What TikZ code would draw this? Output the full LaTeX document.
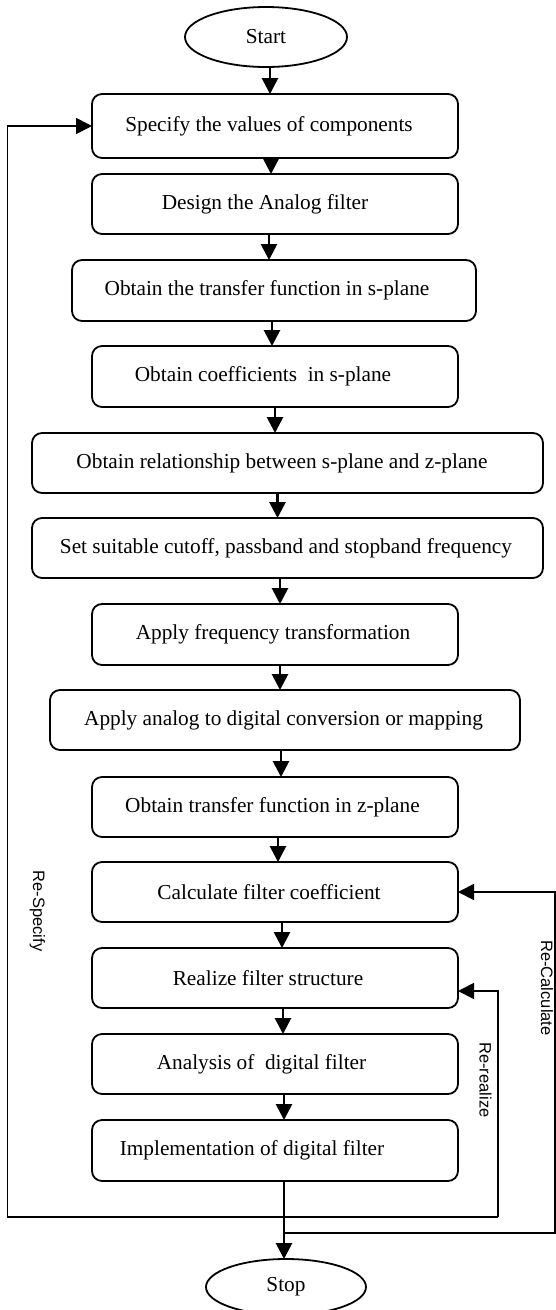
\documentclass[tikz,border=0pt]{standalone}
\usepackage{fontspec}
\setmainfont{Liberation Serif}
\newfontfamily\arialfont{Liberation Sans}
\usetikzlibrary{shapes.geometric,arrows.meta}
\begin{document}
\begin{tikzpicture}[x=1pt,y=-1pt,
  boxstyle/.style={draw,line width=1.8pt,rounded corners=10pt,inner sep=0pt,outer sep=0pt},
  btext/.style={font=\fontsize{21.3}{25}\selectfont},
  ovalstyle/.style={draw,ellipse,line width=1.8pt,inner sep=0pt,outer sep=0pt,font=\fontsize{21.3}{25}\selectfont},
  arr/.style={line width=2.8pt,-{Triangle[length=16pt,width=16pt]}},
  looparr/.style={line width=1.8pt,-{Triangle[length=16pt,width=16pt]}},
  sidetext/.style={font=\arialfont\fontsize{16.5}{19}\selectfont,rotate=-90}
]
\useasboundingbox (0,0) rectangle (556,1310);

\node[ovalstyle,minimum width=162pt,minimum height=60pt] (start) at (266,37) {Start};

\node[boxstyle,minimum width=366pt,minimum height=64pt,label={[btext,xshift=-6pt]center:Specify the values of components}] (b1) at (275,126) {};
\node[boxstyle,minimum width=366pt,minimum height=60pt,label={[btext,xshift=-10pt]center:Design the Analog filter}] (b2) at (275,204) {};
\node[boxstyle,minimum width=404pt,minimum height=61pt,label={[btext,xshift=-7pt]center:Obtain the transfer function in s-plane}] (b3) at (274,290.5) {};
\node[boxstyle,minimum width=366pt,minimum height=61pt,label={[btext,xshift=-12pt]center:Obtain coefficients\ \ in s-plane}] (b4) at (275,376.5) {};
\node[boxstyle,minimum width=511pt,minimum height=60pt,label={[btext,xshift=-5.5pt]center:Obtain relationship between s-plane and z-plane}] (b5) at (287.5,463) {};
\node[boxstyle,minimum width=511pt,minimum height=60pt,label={[btext,xshift=-1.5pt]center:Set suitable cutoff, passband and stopband frequency}] (b6) at (287.5,548) {};
\node[boxstyle,minimum width=366pt,minimum height=61pt,label={[btext,xshift=-2pt]center:Apply frequency transformation}] (b7) at (275,634.5) {};
\node[boxstyle,minimum width=470pt,minimum height=60pt,label={[btext,xshift=-1.5pt]center:Apply analog to digital conversion or mapping}] (b8) at (285,720) {};
\node[boxstyle,minimum width=366pt,minimum height=60pt,label={[btext,xshift=-2.5pt]center:Obtain transfer function in z-plane}] (b9) at (275,807) {};
\node[boxstyle,minimum width=366pt,minimum height=60pt,label={[btext,xshift=-6pt]center:Calculate filter coefficient}] (b10) at (275,892) {};
\node[boxstyle,minimum width=366pt,minimum height=60pt,label={[btext,xshift=-7pt]center:Realize filter structure}] (b11) at (275,978) {};
\node[boxstyle,minimum width=366pt,minimum height=60pt,label={[btext,xshift=-13.5pt]center:Analysis of\ \ digital filter}] (b12) at (275,1064) {};
\node[boxstyle,minimum width=366pt,minimum height=61pt,label={[btext,xshift=-23pt]center:Implementation of digital filter}] (b13) at (275,1150.5) {};

\node[ovalstyle,minimum width=160pt,minimum height=56pt] (stop) at (286,1287) {Stop};

% main arrow x positions
\coordinate (x0) at (270,0);
\coordinate (x1) at (271,0);
\coordinate (x2) at (269,0);
\coordinate (x3) at (272,0);
\coordinate (x4) at (275,0);
\coordinate (x5) at (277.5,0);
\coordinate (x6) at (280,0);
\coordinate (x7) at (280,0);
\coordinate (x8) at (281,0);
\coordinate (x9) at (278,0);
\coordinate (x10) at (282,0);
\coordinate (x11) at (283,0);
\coordinate (x12) at (284,0);
\coordinate (x13) at (284,0);

\draw[arr] (start.south -| x0) -- (b1.north -| x0);
\draw[arr] (b1.south -| x1) -- (b2.north -| x1);
\draw[arr] (b2.south -| x2) -- (b3.north -| x2);
\draw[arr] (b3.south -| x3) -- (b4.north -| x3);
\draw[arr] (b4.south -| x4) -- (b5.north -| x4);
\draw[arr] (b5.south -| x5) -- (b6.north -| x5);
\draw[arr] (b6.south -| x6) -- (b7.north -| x6);
\draw[arr] (b7.south -| x7) -- (b8.north -| x7);
\draw[arr] (b8.south -| x8) -- (b9.north -| x8);
\draw[arr] (b9.south -| x9) -- (b10.north -| x9);
\draw[arr] (b10.south -| x10) -- (b11.north -| x10);
\draw[arr] (b11.south -| x11) -- (b12.north -| x11);
\draw[arr] (b12.south -| x12) -- (b13.north -| x12);
\draw[arr] (b13.south -| x13) -- (stop.north -| x13);

% Re-Specify / Re-realize loop
\coordinate (lt) at (7.5,126);
\coordinate (lb) at (7.5,1217);
\coordinate (rb) at (498,1217);
\coordinate (rt) at (498,991);
\draw[looparr] (rb) -- (lb) -- (lt) -- (b1.west);
\draw[looparr] (rb) -- (rt) -- (b11.east |- rt);

% Re-Calculate loop
\coordinate (rc) at (284,1233);
\coordinate (rcb) at (555,1233);
\coordinate (rct) at (555,892);
\draw[looparr] (rc) -- (rcb) -- (rct) -- (b10.east);

\node[sidetext] (t1) at (37.5,911) {Re-Specify};
\node[sidetext] (t2) at (547,988) {Re-Calculate};
\node[sidetext] (t3) at (485.5,1080) {Re-realize};
\end{tikzpicture}
\end{document}
